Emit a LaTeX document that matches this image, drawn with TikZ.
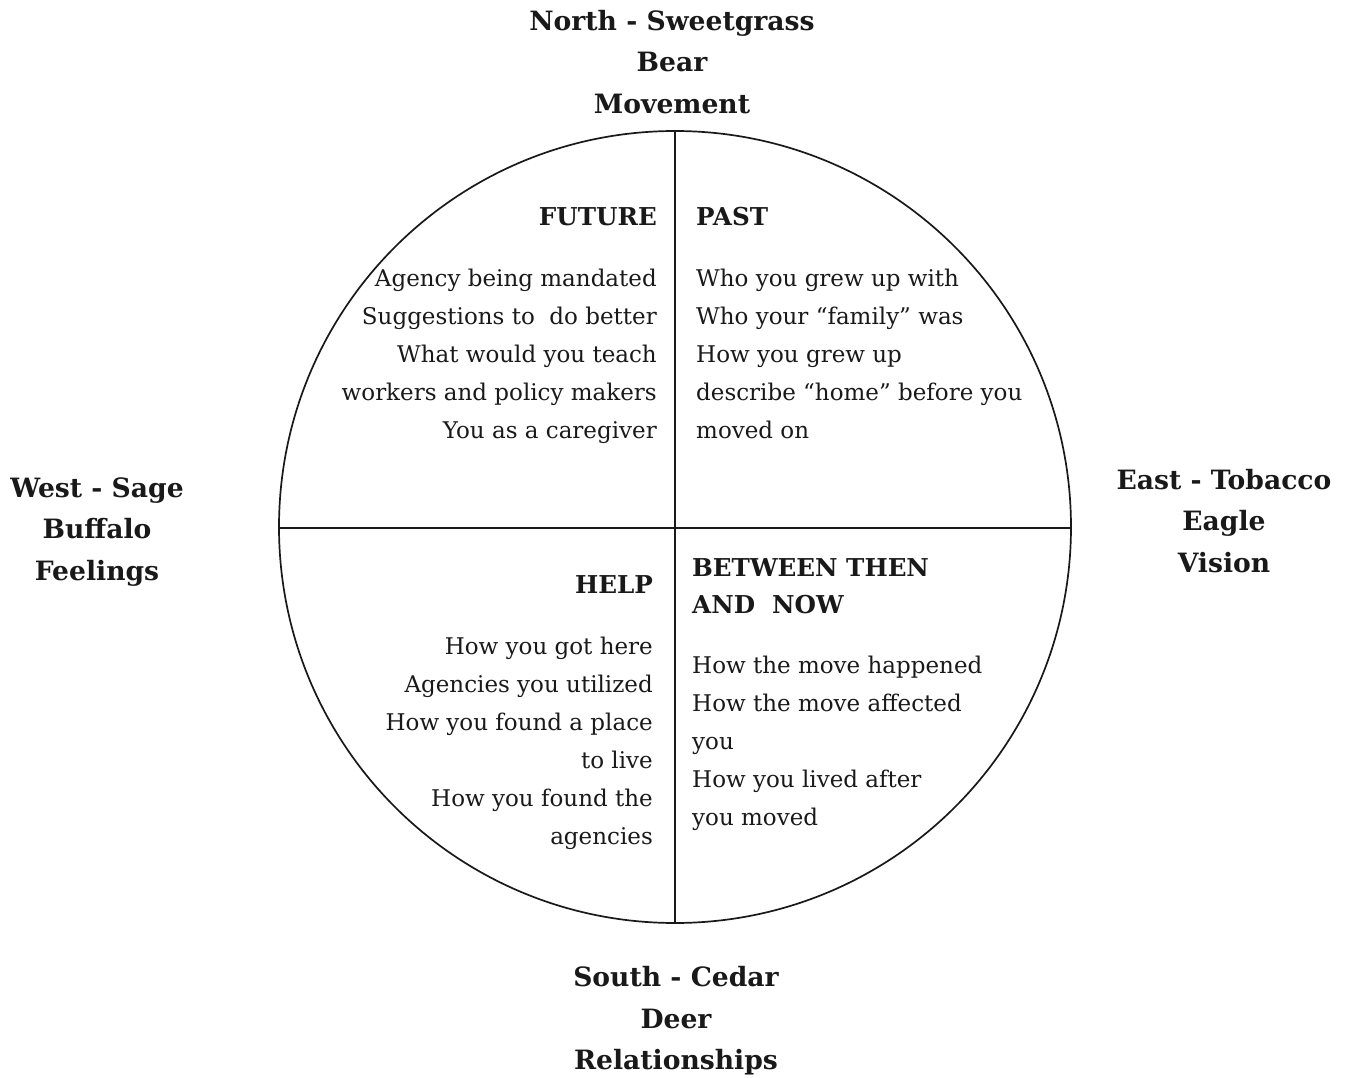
\documentclass[tikz,border=0pt]{standalone}
\usepackage{fontspec}
\setmainfont{DejaVu Serif}
\begin{document}
\begin{tikzpicture}[x=1pt,y=-1pt,
  body/.style={inner sep=0pt, font=\fontsize{23}{38}\selectfont, text=black!90},
  quad/.style={inner sep=0pt, font=\fontsize{24.6}{37}\selectfont\bfseries, text=black!90},
  dir/.style={inner sep=0pt, align=center, font=\fontsize{26.6}{41.5}\selectfont\bfseries, text=black!90},
  wheel/.style={line width=1.7pt, draw=black!90}]
\useasboundingbox (0,0) rectangle (1345,1078);
% medicine wheel
\coordinate (c) at (675,527);
\draw[wheel] (c) circle[radius=396];
\coordinate (top) at (675,131);
\coordinate (bot) at (675,923);
\coordinate (lft) at (279,528);
\coordinate (rgt) at (1071,528);
\draw[wheel] (top) -- (bot);
\draw[wheel] (lft) -- (rgt);
% directions
\node[dir] (north) at (672,62) {North - Sweetgrass\\Bear\\Movement};
\node[dir] (west) at (97,532) {West - Sage\\Buffalo\\Feelings};
\node[dir] (east) at (1224,521) {East - Tobacco\\Eagle\\Vision};
\node[dir] (south) at (676,1021) {South - Cedar\\Deer\\Relationships};
% quadrant headings
\node[quad, anchor=east] (future) at (657,217) {FUTURE};
\node[quad, anchor=west] (past) at (696,217) {PAST};
\node[quad, anchor=east] (help) at (653,585) {HELP};
\node[quad, anchor=west, align=left] (between) at (692,586) {BETWEEN THEN\\AND\ \ NOW};
% quadrant contents
\node[body, anchor=east, align=right] (futuretxt) at (657,356)
  {Agency being mandated\\Suggestions to\ \ do better\\What would you teach\\workers and policy makers\\You as a caregiver};
\node[body, anchor=west, align=left] (pasttxt) at (696,354)
  {Who you grew up with\\Who your “family” was\\How you grew up\\describe “home” before you\\moved on};
\node[body, anchor=east, align=right] (helptxt) at (653,743)
  {How you got here\\Agencies you utilized\\How you found a place\\to live\\How you found the\\agencies};
\node[body, anchor=west, align=left] (betweentxt) at (692,743)
  {How the move happened\\How the move affected\\you\\How you lived after\\you moved};
\end{tikzpicture}
\end{document}
